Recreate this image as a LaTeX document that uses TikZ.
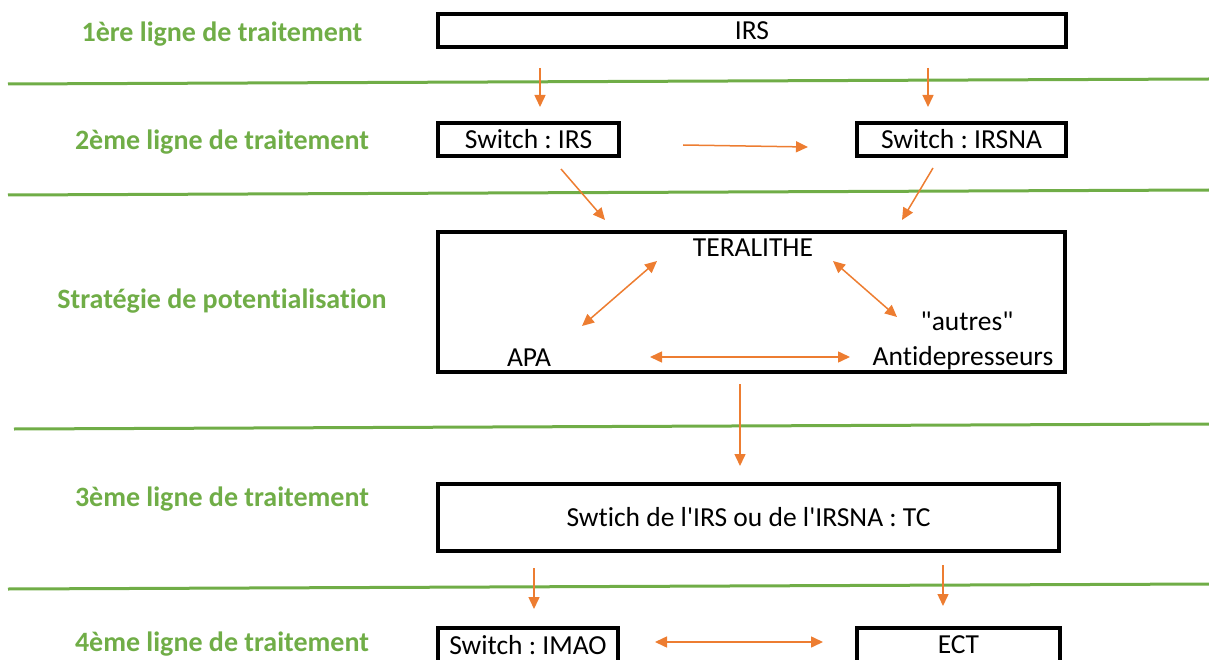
\documentclass[tikz,border=0pt]{standalone}
\usepackage{fontspec}
\setmainfont{Carlito}[Ligatures={TeXOff,CommonOff}]
\usetikzlibrary{arrows.meta}
\definecolor{vert}{RGB}{112,173,71}
\definecolor{fleche}{RGB}{237,125,49}
\frenchspacing
\tikzset{
  ligne/.style={draw=vert,line width=3pt},
  niveau/.style={text=vert,font=\bfseries\fontsize{28}{32}\selectfont},
  boite/.style={draw,line width=4pt,inner sep=0pt,font=\fontsize{27.5}{32}\selectfont},
  mot/.style={inner sep=0pt,font=\fontsize{27.5}{32}\selectfont},
  fl/.style={draw=fleche,line width=1.5pt,-{Triangle[length=12pt,width=11pt]}},
  dfl/.style={fl,{Triangle[length=12pt,width=11pt]}-{Triangle[length=12pt,width=11pt]}},
}
\begin{document}
\begin{tikzpicture}[x=1pt,y=-1pt]
\clip (0,0) rectangle (1209,660);
\draw[ligne] (8,84) -- (1209,79);
\draw[ligne] (8,195) -- (1209,190);
\draw[ligne] (14,429) -- (1209,424);
\draw[ligne] (8,589) -- (1209,584);
\node[niveau] (n1) at (222,34) {1ère ligne de traitement};
\node[niveau] (n2) at (222,142) {2ème ligne de traitement};
\node[niveau] (n3) at (222,301) {Stratégie de potentialisation};
\node[niveau] (n4) at (222,499) {3ème ligne de traitement};
\node[niveau] (n5) at (222,644) {4ème ligne de traitement};
\node[boite,minimum width=628pt,minimum height=33pt] (irs) at (752,30.5) {IRS};
\node[boite,minimum width=181pt,minimum height=33pt] (sw1) at (528.5,139.5) {Switch : IRS};
\node[boite,minimum width=209pt,minimum height=33pt] (sw2) at (961.5,139.5) {Switch : IRSNA};
\node[boite,minimum width=627pt,minimum height=140pt] (pot) at (751.5,302) {};
\node[mot] (ter) at (753,248) {TERALITHE};
\node[mot] (aut) at (967,321) {"autres"};
\node[mot] (apa) at (529,358) {APA};
\node[mot] (anti) at (963,358) {Antidepresseurs};
\node[boite,minimum width=621pt,minimum height=67pt] (tc) at (748.5,517.5) {Swtich de l'IRS ou de l'IRSNA : TC};
\node[boite,minimum width=180pt,minimum height=34pt] (imao) at (528,645) {Switch : IMAO};
\node[boite,minimum width=203pt,minimum height=34pt] (ect) at (958.5,645) {ECT};
\coordinate (a1) at (540,68);  \coordinate (b1) at (540,107);
\coordinate (a2) at (928,68);  \coordinate (b2) at (928,107);
\coordinate (a3) at (683,145); \coordinate (b3) at (808,147);
\coordinate (a4) at (561,169); \coordinate (b4) at (605,220);
\coordinate (a5) at (933,168); \coordinate (b5) at (902,220);
\coordinate (a6) at (657,261); \coordinate (b6) at (582,326);
\coordinate (a7) at (833,261); \coordinate (b7) at (897,317);
\coordinate (a8) at (650,357); \coordinate (b8) at (850,357);
\coordinate (a9) at (740,384); \coordinate (b9) at (740,466);
\coordinate (a10) at (534,568); \coordinate (b10) at (534,609);
\coordinate (a11) at (943,565); \coordinate (b11) at (943,606);
\coordinate (a12) at (655,642); \coordinate (b12) at (823,642);
\foreach \i in {1,2,3,4,5,9,10,11}
  \draw[fl] (a\i) -- (b\i);
\foreach \i in {6,7,8,12}
  \draw[dfl] (a\i) -- (b\i);
\end{tikzpicture}
\end{document}
